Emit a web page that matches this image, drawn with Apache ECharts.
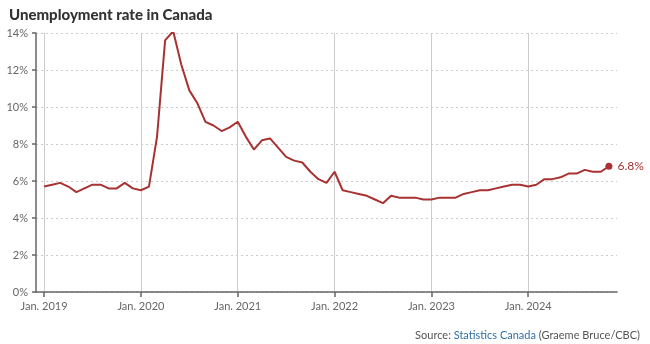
<!DOCTYPE html>
<html>
<head>
<meta charset="utf-8">
<script src="https://cdn.jsdelivr.net/npm/echarts@6/dist/echarts.min.js"></script>
<style>html,body{margin:0;padding:0;background:#fff}#c{width:650px;height:344px}</style>
</head>
<body>
<div id="c"></div>
<script>
// Monthly unemployment rate (%), Jan 2019 – Nov 2024
const rate2019 = [5.7, 5.8, 5.9, 5.7, 5.4, 5.6, 5.8, 5.8, 5.6, 5.6, 5.9, 5.6];
const rate2020 = [5.5, 5.7, 8.4, 13.6, 14.1, 12.3, 10.9, 10.2, 9.2, 9.0, 8.7, 8.9];
const rate2021 = [9.2, 8.4, 7.7, 8.2, 8.3, 7.8, 7.3, 7.1, 7.0, 6.5, 6.1, 5.9];
const rate2022 = [6.5, 5.5, 5.4, 5.3, 5.2, 5.0, 4.8, 5.2, 5.1, 5.1, 5.1, 5.0];
const rate2023 = [5.0, 5.1, 5.1, 5.1, 5.3, 5.4, 5.5, 5.5, 5.6, 5.7, 5.8, 5.8];
const rate2024 = [5.7, 5.8, 6.1, 6.1, 6.2, 6.4, 6.4, 6.6, 6.5, 6.5, 6.8];
const years = [2019, 2020, 2021, 2022, 2023, 2024];
const tickLabels = ["Jan. 2019", "Jan. 2020", "Jan. 2021", "Jan. 2022", "Jan. 2023", "Jan. 2024"];
const yTicks = [0, 2, 4, 6, 8, 10, 12, 14];

// Categories: Dec 2018 (padding) ... Dec 2024 (padding)
const categories = ["2018-12"];
years.forEach(y => { for (let m = 1; m <= 12; m++) categories.push(y + "-" + String(m).padStart(2, "0")); });
const rates = [].concat(rate2019, rate2020, rate2021, rate2022, rate2023, rate2024);
const seriesData = [null].concat(rates);
while (seriesData.length < categories.length) seriesData.push(null);
const lastIdx = rates.length; // index in categories
const lastVal = rates[rates.length - 1];

const isJan = (i, v) => typeof v === 'string' ? v.endsWith('-01') : categories[i].endsWith('-01');
const labelFor = v => { const y = parseInt(v.slice(0, 4)); const k = years.indexOf(y); return k >= 0 ? tickLabels[k] : ''; };

const FONT = 'Lato, "Open Sans", sans-serif';
const RED = '#a83232';

const chart = echarts.init(document.getElementById('c'));
chart.setOption({
  animation: false,
  backgroundColor: '#fff',
  title: {
    text: 'Unemployment rate in Canada',
    left: 4, top: 3,
    textStyle: { fontFamily: FONT, fontWeight: 900, fontSize: 15, color: '#333' }
  },
  grid: { left: 36, right: 33, top: 33, bottom: 52, containLabel: false },
  xAxis: {
    type: 'category',
    data: categories,
    boundaryGap: false,
    axisLine: { show: true, lineStyle: { color: '#666', width: 1.5 } },
    axisTick: { show: true, interval: (i, v) => isJan(i, v), length: 5, lineStyle: { color: '#666', width: 1.5 } },
    axisLabel: { interval: (i, v) => isJan(i, v), formatter: v => labelFor(v), color: '#666', fontFamily: FONT, fontSize: 11, margin: 9 },
    splitLine: { show: true, interval: (i, v) => isJan(i, v), lineStyle: { color: '#ccc', width: 1, type: 'solid' } }
  },
  yAxis: {
    type: 'value',
    min: yTicks[0], max: yTicks[yTicks.length - 1], interval: 2,
    axisLine: { show: true, lineStyle: { color: '#666', width: 1.5 } },
    axisTick: { show: true, length: 4, lineStyle: { color: '#666', width: 1.5 } },
    axisLabel: { formatter: '{value}%', color: '#666', fontFamily: FONT, fontSize: 11, margin: 8 },
    splitLine: { show: true, lineStyle: { color: '#ccc', width: 1, type: [2, 3] } }
  },
  series: [
    {
      type: 'line',
      data: seriesData,
      showSymbol: false,
      connectNulls: false,
      lineStyle: { color: RED, width: 2 },
      itemStyle: { color: RED },
      z: 3
    },
    {
      type: 'scatter',
      data: [[lastIdx, lastVal]],
      symbol: 'circle',
      symbolSize: 7,
      itemStyle: { color: RED, opacity: 1 },
      label: { show: true, position: 'right', distance: 5, formatter: p => p.value[1] + '%', color: RED, fontFamily: FONT, fontSize: 12 },
      z: 4
    }
  ],
  graphic: [
    {
      type: 'text',
      right: 10, top: 330,
      style: {
        text: '{g|Source: }{b|Statistics Canada}{g| (Graeme Bruce/CBC)}',
        rich: {
          g: { fill: '#555', fontFamily: FONT, fontSize: 11 },
          b: { fill: '#2f6fa8', fontFamily: FONT, fontSize: 11 }
        }
      }
    }
  ]
});
</script>
</body>
</html>
